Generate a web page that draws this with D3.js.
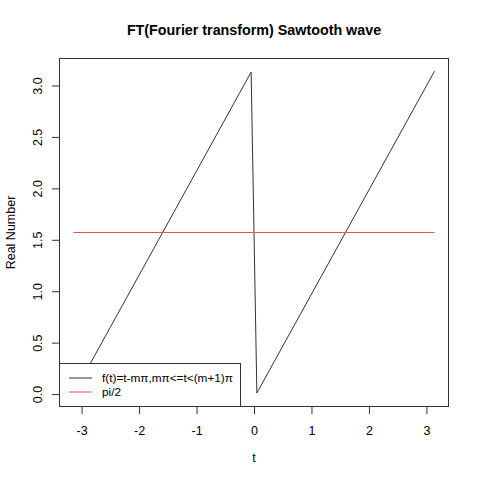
<!DOCTYPE html>
<html><head><meta charset="utf-8">
<script src="https://cdn.jsdelivr.net/npm/d3@7"></script>
<style>body{margin:0;background:#fff}svg{display:block;font-family:"Liberation Sans",Arial,sans-serif}</style>
</head><body><svg id="c" width="480" height="480"></svg>
<script>
const sawT = [-Math.PI, -0.05, 0.05, Math.PI];
const sawF = [0, 3.13, 0.01, 3.14];
const refT = [-Math.PI, Math.PI];
const refF = [Math.PI/2, Math.PI/2];
const xTicks = [-3,-2,-1,0,1,2,3];
const xTickLabels = ["-3","-2","-1","0","1","2","3"];
const yTicks = [0,0.5,1,1.5,2,2.5,3];
const yTickLabels = ["0.0","0.5","1.0","1.5","2.0","2.5","3.0"];
const legendLabels = ["f(t)=t-m\u03c0,m\u03c0<=t<(m+1)\u03c0","pi/2"];
const legendColors = ["#333333","#e05555"];

const svg = d3.select("#c");
const L=59,R=449,T=58,B=407;
const xr=2*Math.PI*0.04, yr=Math.PI*0.04;
const x=d3.scaleLinear().domain([-Math.PI-xr,Math.PI+xr]).range([L,R]);
const y=d3.scaleLinear().domain([0-yr,Math.PI+yr]).range([B,T]);

const line=d3.line().x(d=>x(d[0])).y(d=>y(d[1]));
svg.append("path").datum(sawT.map((t,i)=>[t,sawF[i]])).attr("d",line)
  .attr("fill","none").attr("stroke",legendColors[0]).attr("stroke-width",1);
svg.append("path").datum(refT.map((t,i)=>[t,refF[i]])).attr("d",line)
  .attr("fill","none").attr("stroke",legendColors[1]).attr("stroke-width",1);

// box
svg.append("rect").attr("x",L+0.5).attr("y",T+0.5).attr("width",R-L-1).attr("height",B-T-1)
  .attr("fill","none").attr("stroke","#333").attr("stroke-width",1);

// x axis
const xa=svg.append("g").attr("transform",`translate(0,${B})`)
  .call(d3.axisBottom(x).tickValues(xTicks).tickSize(7).tickPadding(12).tickFormat((d,i)=>xTickLabels[i]));
xa.select(".domain").remove();
xa.selectAll("line").attr("stroke","#333");
xa.selectAll("text").attr("font-size",12.5).attr("fill","#000").attr("font-family","Liberation Sans,Arial,sans-serif");

// y axis
const ya=svg.append("g").attr("transform",`translate(${L},0)`)
  .call(d3.axisLeft(y).tickValues(yTicks).tickSize(7).tickFormat((d,i)=>yTickLabels[i]));
ya.select(".domain").remove();
ya.selectAll("line").attr("stroke","#333");
ya.selectAll("text").attr("font-size",12.5).attr("fill","#000").attr("font-family","Liberation Sans,Arial,sans-serif")
  .attr("x",0).attr("dy",0).attr("text-anchor","middle")
  .attr("transform","translate(-17,0) rotate(-90)");

// titles
svg.append("text").attr("x",(L+R)/2).attr("y",35).attr("text-anchor","middle")
  .attr("font-size",14.3).attr("font-weight","bold").text("FT(Fourier transform) Sawtooth wave");
svg.append("text").attr("x",(L+R)/2).attr("y",462).attr("text-anchor","middle")
  .attr("font-size",12.5).text("t");
svg.append("text").attr("transform",`translate(15,${(T+B)/2}) rotate(-90)`).attr("text-anchor","middle")
  .attr("font-size",12.5).text("Real Number");

// legend
const lg=svg.append("g");
lg.append("rect").attr("x",L+0.5).attr("y",363.5).attr("width",181).attr("height",B-363-1)
  .attr("fill","#fff").attr("stroke","#333");
legendLabels.forEach((lab,i)=>{
  const yy=378+i*14;
  lg.append("line").attr("x1",69).attr("x2",92).attr("y1",yy).attr("y2",yy).attr("stroke",legendColors[i]);
  lg.append("text").attr("x",102).attr("y",yy+4).attr("font-size",11.8).text(lab);
});
</script></body></html>
